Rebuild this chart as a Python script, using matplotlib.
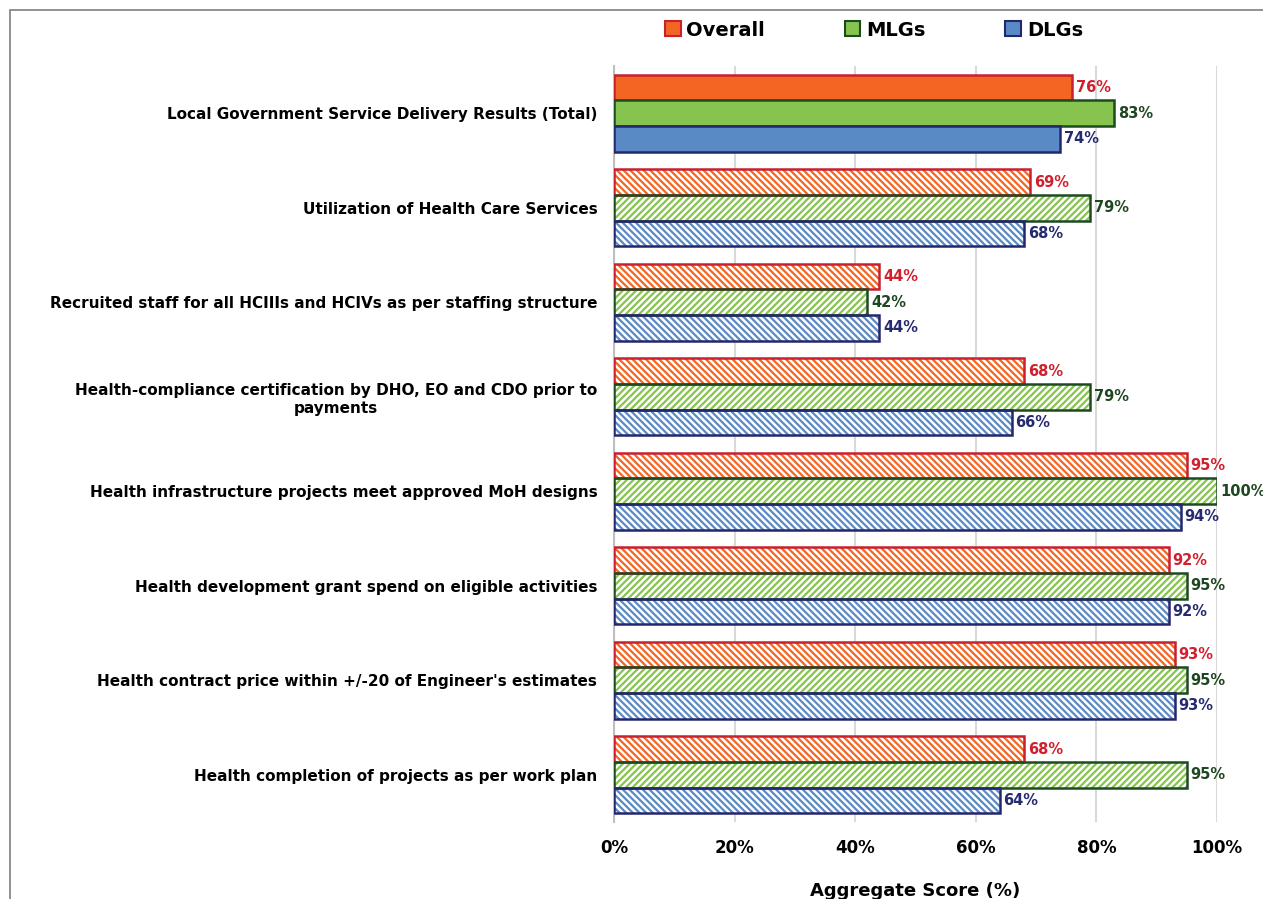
import numpy as np
import matplotlib
matplotlib.use("Agg")
import matplotlib.pyplot as plt
from matplotlib.patches import Patch, Rectangle

plt.rcParams['font.family'] = 'DejaVu Sans'
plt.rcParams['font.weight'] = 'bold'
plt.rcParams['hatch.linewidth'] = 1.6

# data
categories = [
    "Local Government Service Delivery Results (Total)",
    "Utilization of Health Care Services",
    "Recruited staff for all HCIIIs and HCIVs as per staffing structure",
    "Health-compliance certification by DHO, EO and CDO prior to\npayments",
    "Health infrastructure projects meet approved MoH designs",
    "Health development grant spend on eligible activities",
    "Health contract price within +/-20 of Engineer's estimates",
    "Health completion of projects as per work plan",
]
overall = [76, 69, 44, 68, 95, 92, 93, 68]
mlgs = [83, 79, 42, 79, 100, 95, 95, 95]
dlgs = [74, 68, 44, 66, 94, 92, 93, 64]
series_names = ["Overall", "MLGs", "DLGs"]
x_ticks = [0, 20, 40, 60, 80, 100]

# styles: fill colour, edge colour, label colour, hatch
styles = [
    ("#F26522", "#C8202F", "#D0202E", "\\" * 5),
    ("#86C34F", "#1E4A22", "#1E4620", "/" * 5),
    ("#5A8AC6", "#25276E", "#262A6E", "\\" * 5),
]

fig = plt.figure(figsize=(12.63, 8.99), dpi=100)
ax = fig.add_axes([614/1263, 1 - 822/899, 603/1263, 756/899])

y = np.arange(len(categories))
h = 0.27
offsets = [-h, 0, h]

for s, vals in enumerate([overall, mlgs, dlgs]):
    fc, ec, tc, hatch = styles[s]
    for i, v in enumerate(vals):
        yy = y[i] + offsets[s]
        if i == 0:
            ax.barh(yy, v, height=h, color=fc, edgecolor=ec, linewidth=1.8, zorder=3)
        else:
            ax.barh(yy, v, height=h, color="white", edgecolor=fc, hatch=hatch,
                    linewidth=0, zorder=3)
            ax.barh(yy, v, height=h, fill=False, edgecolor=ec, linewidth=1.8, zorder=4)
        ax.text(v + 0.6, yy, f"{v}%", va="center", ha="left", color=tc,
                fontsize=10.5, fontweight="bold", zorder=5, clip_on=False)

ax.set_ylim(len(categories) - 0.5, -0.5)
ax.set_xlim(0, 100)
ax.set_yticks(y)
ax.set_yticklabels(categories, fontsize=11, fontweight="bold", multialignment="center")
ax.set_xticks(x_ticks)
ax.set_xticklabels([f"{t}%" for t in x_ticks], fontsize=12, fontweight="bold")
ax.tick_params(axis="x", length=0, pad=12)
ax.tick_params(axis="y", length=0, pad=12)
ax.set_xlabel("Aggregate Score (%)", fontsize=13, fontweight="bold", labelpad=18)

ax.grid(axis="x", color="#D9D9D9", linewidth=1.5, zorder=0)
for side in ["top", "right", "bottom"]:
    ax.spines[side].set_visible(False)
ax.spines["left"].set_color("#BFBFBF")
ax.spines["left"].set_linewidth(1.5)

handles = [Patch(facecolor=styles[i][0], edgecolor=styles[i][1], linewidth=1.5)
           for i in range(3)]
fig.legend(handles, series_names, loc="center", bbox_to_anchor=(0.692, 1 - 30/899),
           ncol=3, frameon=False, columnspacing=4.1,
           handlelength=0.8, handleheight=0.8, handletextpad=0.3,
           prop={"weight": "bold", "size": 14})

# figure border (left and top visible)
fig.patches.append(Rectangle((10/1263, -0.1), 1.2, 1.1 - 10/899,
                             transform=fig.transFigure, fill=False,
                             edgecolor="#7F7F7F", linewidth=1.2))

fig.savefig("out.png", dpi=100)
